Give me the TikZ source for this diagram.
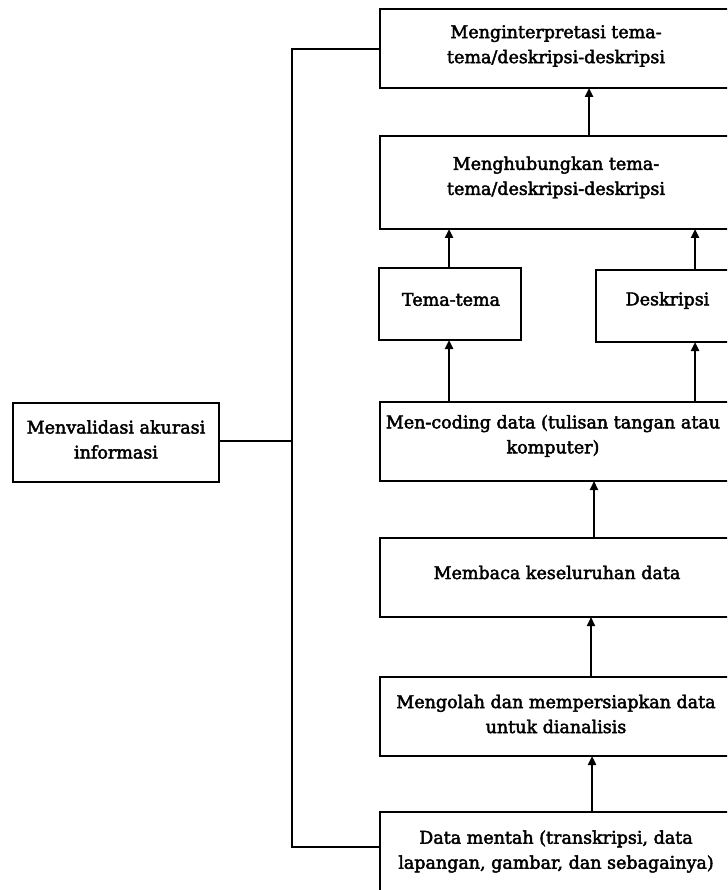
\documentclass[tikz,border=0pt]{standalone}
\usepackage{fontspec}
\setmainfont{DejaVu Serif}[FakeBold=2.5]
\usetikzlibrary{arrows.meta}
\begin{document}
\begin{tikzpicture}[x=1pt,y=-1pt,
  box/.style={draw, line width=2.7pt, inner sep=0pt, outer sep=0pt},
  txt/.style={align=center, inner sep=0pt, font=\fontsize{17.5}{25}\selectfont},
  conn/.style={line width=2.6pt},
  arr/.style={line width=2.6pt, -{Triangle[length=9pt,width=8pt]}},
  arrthin/.style={line width=1.9pt, -{Triangle[length=9pt,width=8pt]}}]
\useasboundingbox (0,0) rectangle (727,890);
\clip (0,0) rectangle (727,890);
\fill[white] (0,0) rectangle (727,890);
% boxes
\node[box, minimum width=351pt, minimum height=79pt] (box1) at (555.5,48.5) {};
\node[box, minimum width=351pt, minimum height=93pt] (box2) at (555.5,182.5) {};
\node[box, minimum width=142pt, minimum height=72pt] (tema) at (450,304) {};
\node[box, minimum width=143pt, minimum height=72pt] (desk) at (667.5,306) {};
\node[box, minimum width=351pt, minimum height=79pt] (mcod) at (555.5,441.5) {};
\node[box, minimum width=351pt, minimum height=79pt] (memb) at (555.5,577.5) {};
\node[box, minimum width=351pt, minimum height=79pt] (meng) at (555.5,716.5) {};
\node[box, minimum width=351pt, minimum height=81pt] (data) at (555.5,852.5) {};
\node[box, minimum width=206pt, minimum height=79pt] (menval) at (116,442.5) {};
% texts
\node[txt] (t1) at (556,46) {Menginterpretasi tema-\\tema/deskripsi-deskripsi};
\node[txt] (t2) at (556,177.5) {Menghubungkan tema-\\tema/deskripsi-deskripsi};
\node[txt] (t3) at (451,299.5) {Tema-tema};
\node[txt] (t4) at (667.5,300.5) {Deskripsi};
\node[txt] (t5) at (553,436) {Men-coding data (tulisan tangan atau\\komputer)};
\node[txt] (t6) at (557,572.5) {Membaca keseluruhan data};
\node[txt] (t7) at (556,714) {Mengolah dan mempersiapkan data\\untuk dianalisis};
\node[txt] (t8) at (556,851.5) {Data mentah (transkripsi, data\\lapangan, gambar, dan sebagainya)};
\node[txt] (t9) at (116,439.5) {Menvalidasi akurasi\\informasi};
% connector coordinates
\coordinate (vtop) at (292,49);
\coordinate (vbot) at (292,847);
\coordinate (vmid) at (292,441);
\coordinate (xa) at (589,0);
\coordinate (xt) at (449,0);
\coordinate (xd) at (695,0);
\coordinate (xb) at (594,0);
\coordinate (xc) at (591,0);
\coordinate (xe) at (592,0);
% left bracket
\draw[conn] (box1.west |- vtop) -- (vtop) -- (vbot) -- (data.west |- vbot);
\draw[conn] (menval.east |- vmid) -- (vmid);
% arrows
\draw[arr] (box2.north -| xa) -- (box1.south -| xa);
\draw[arr] (tema.north -| xt) -- (box2.south -| xt);
\draw[arr] (desk.north -| xd) -- (box2.south -| xd);
\draw[arr] (mcod.north -| xt) -- (tema.south -| xt);
\draw[arr] (mcod.north -| xd) -- (desk.south -| xd);
\draw[arrthin] (memb.north -| xb) -- (mcod.south -| xb);
\draw[arrthin] (meng.north -| xc) -- (memb.south -| xc);
\draw[arr] (data.north -| xe) -- (meng.south -| xe);
\end{tikzpicture}
\end{document}
